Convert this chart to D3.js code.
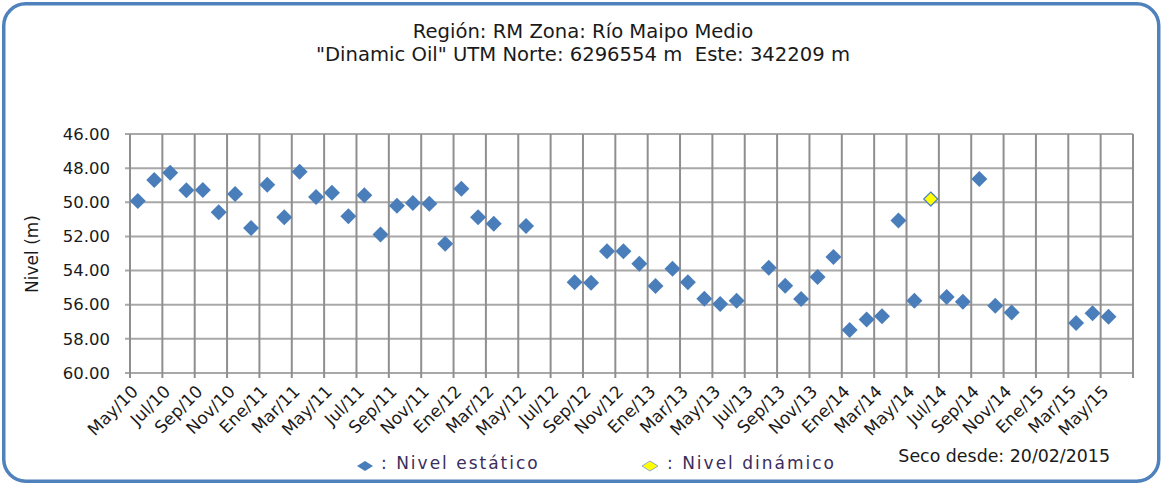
<!DOCTYPE html>
<html>
<head>
<meta charset="utf-8">
<script src="https://cdn.jsdelivr.net/npm/d3@7"></script>
<style>
  html, body { margin: 0; padding: 0; background: #fff; }
  svg { display: block; }
</style>
</head>
<body>
<svg id="chart" width="1161" height="483"></svg>
<script>
// Axis tick labels (every two months, starting May 2010)
const tickLabels = ["May/10","Jul/10","Sep/10","Nov/10","Ene/11","Mar/11","May/11","Jul/11",
  "Sep/11","Nov/11","Ene/12","Mar/12","May/12","Jul/12","Sep/12","Nov/12","Ene/13","Mar/13",
  "May/13","Jul/13","Sep/13","Nov/13","Ene/14","Mar/14","May/14","Jul/14","Sep/14","Nov/14",
  "Ene/15","Mar/15","May/15"];
const yTicks = [46, 48, 50, 52, 54, 56, 58, 60];

// Static level measurements
const staticDates = ["2010-05-16","2010-06-16","2010-07-16","2010-08-16","2010-09-16","2010-10-16",
  "2010-11-16","2010-12-16","2011-01-16","2011-02-16","2011-03-16","2011-04-16","2011-05-16",
  "2011-06-16","2011-07-16","2011-08-16","2011-09-16","2011-10-16","2011-11-16","2011-12-16",
  "2012-01-16","2012-02-16","2012-03-16","2012-05-16","2012-08-16","2012-09-16","2012-10-16",
  "2012-11-16","2012-12-16","2013-01-16","2013-02-16","2013-03-16","2013-04-16","2013-05-16",
  "2013-06-16","2013-08-16","2013-09-16","2013-10-16","2013-11-16","2013-12-16","2014-01-16",
  "2014-02-16","2014-03-16","2014-04-16","2014-05-16","2014-07-16","2014-08-16","2014-09-16",
  "2014-10-16","2014-11-16","2015-03-16","2015-04-16","2015-05-16"];
const staticLevels = [49.92,48.69,48.27,49.30,49.28,50.59,
  49.51,51.51,48.97,50.88,48.21,49.69,49.44,
  50.82,49.59,51.88,50.20,50.04,50.08,52.43,
  49.20,50.88,51.25,51.39,54.69,54.71,52.87,
  52.87,53.60,54.90,53.89,54.69,55.65,55.96,
  55.77,53.84,54.89,55.67,54.38,53.20,57.48,
  56.86,56.68,51.06,55.77,55.55,55.82,48.64,
  56.06,56.45,57.07,56.50,56.70];

// Dynamic level measurements
const dynamicDates = ["2014-06-16"];
const dynamicLevels = [49.81];

const titleLines = ["Región: RM Zona: Río Maipo Medio",
  "\"Dinamic Oil\" UTM Norte: 6296554 m\u00a0\u00a0Este: 342209 m"];
const noteText = "Seco desde: 20/02/2015";

// Month-based axis: one unit per month, origin at May 2010
const axisStartYear = 2010, axisStartMonth = 5, axisMonths = 62;
function monthIndex(s) {
  const [y, m, d] = s.split("-").map(Number);
  const days = new Date(y, m, 0).getDate();
  return (y - axisStartYear) * 12 + (m - axisStartMonth) + (d - 1) / days;
}

const svg = d3.select("#chart");
const W = 1161, H = 483;
const plot = { left: 130, right: 1133, top: 134, bottom: 373 };

const x = d3.scaleLinear().domain([0, axisMonths]).range([plot.left, plot.right]);
const y = d3.scaleLinear().domain([46, 60]).range([plot.top, plot.bottom]);

const FONT = "'DejaVu Sans', Verdana, sans-serif";

// Frame
svg.append("rect").attr("x", 0).attr("y", 0).attr("width", W).attr("height", H).attr("fill", "#fff");
svg.append("rect")
  .attr("x", 3.75).attr("y", 3.75).attr("width", 1155).attr("height", 477.5)
  .attr("rx", 22).attr("ry", 22)
  .attr("fill", "#fff").attr("stroke", "#4f81bd").attr("stroke-width", 3.5);

// Title
svg.append("g").selectAll("text").data(titleLines).join("text")
  .attr("x", 583).attr("y", (d, i) => 38 + i * 23)
  .attr("text-anchor", "middle")
  .attr("font-family", FONT).attr("font-size", 19.6).attr("fill", "#1a1a1a")
  .style("white-space", "pre")
  .text(d => d);

// Grid: horizontal lines with left tick marks
const gridH = svg.append("g");
gridH.selectAll("line").data(yTicks).join("line")
  .attr("x1", plot.left - 5).attr("x2", plot.right)
  .attr("y1", d => y(d)).attr("y2", d => y(d))
  .attr("stroke", "#a8a8a8").attr("stroke-width", 2);

// Grid: vertical lines with bottom tick marks
const xTickVals = d3.range(0, axisMonths + 1, 2);
const gridV = svg.append("g");
gridV.selectAll("line").data(xTickVals).join("line")
  .attr("x1", d => x(d)).attr("x2", d => x(d))
  .attr("y1", plot.top).attr("y2", plot.bottom + 5)
  .attr("stroke", "#8f8f8f").attr("stroke-width", 2);

// Y axis labels
const yAxis = d3.axisLeft(y).tickValues(yTicks).tickFormat(d3.format(".2f")).tickSize(0).tickPadding(20);
const gy = svg.append("g").attr("transform", `translate(${plot.left},0)`).call(yAxis);
gy.select(".domain").remove();
gy.selectAll("text").attr("font-family", FONT).attr("font-size", 16.5).attr("fill", "#1a1a1a");

// X axis labels (rotated)
const xAxis = d3.axisBottom(x).tickValues(xTickVals)
  .tickFormat((d, i) => tickLabels[i] || "").tickSize(0);
const gx = svg.append("g").attr("transform", `translate(0,${plot.bottom})`).call(xAxis);
gx.select(".domain").remove();
gx.selectAll("text")
  .attr("font-family", FONT).attr("font-size", 17).attr("fill", "#1a1a1a")
  .attr("text-anchor", "end").attr("dy", null).attr("y", null)
  .attr("dominant-baseline", "middle")
  .attr("transform", "translate(5,16) rotate(-45)");

// Y axis title
svg.append("text")
  .attr("transform", "translate(33,254) rotate(-90)")
  .attr("text-anchor", "middle").attr("dominant-baseline", "middle")
  .attr("font-family", FONT).attr("font-size", 17).attr("fill", "#1a1a1a")
  .text("Nivel (m)");

// Diamond symbol
function diamond(h, v) {
  return `M0,${-v}L${h},0L0,${v}L${-h},0Z`;
}

const staticData = staticDates.map((d, i) => ({ t: monthIndex(d), v: staticLevels[i] }));
const dynamicData = dynamicDates.map((d, i) => ({ t: monthIndex(d), v: dynamicLevels[i] }));

svg.append("g").selectAll("path").data(staticData).join("path")
  .attr("transform", d => `translate(${x(d.t)},${y(d.v)})`)
  .attr("d", diamond(8, 8))
  .attr("fill", "#4a7ebb");

svg.append("g").selectAll("path").data(dynamicData).join("path")
  .attr("transform", d => `translate(${x(d.t)},${y(d.v)})`)
  .attr("d", diamond(7, 7))
  .attr("fill", "#ffff00").attr("stroke", "#4f81bd").attr("stroke-width", 1.2);

// Legend
const legend = [
  { sym: 365, txt: 381, label: ": Nivel estático", fill: "#4a7ebb", stroke: "none" },
  { sym: 650, txt: 667, label: ": Nivel dinámico", fill: "#ffff00", stroke: "#8fa9d0" }
];
const lg = svg.append("g");
lg.selectAll("path").data(legend).join("path")
  .attr("transform", d => `translate(${d.sym},466)`)
  .attr("d", diamond(8, 5))
  .attr("fill", d => d.fill).attr("stroke", d => d.stroke).attr("stroke-width", 1);
lg.selectAll("text").data(legend).join("text")
  .attr("x", d => d.txt).attr("y", 469)
  .attr("font-family", FONT).attr("font-size", 17).attr("letter-spacing", 2)
  .attr("fill", "#3b2d5c")
  .text(d => d.label);

// Note
svg.append("text")
  .attr("x", 1110).attr("y", 462).attr("text-anchor", "end")
  .attr("font-family", FONT).attr("font-size", 17.4).attr("fill", "#1a1a1a")
  .text(noteText);
</script>
</body>
</html>
